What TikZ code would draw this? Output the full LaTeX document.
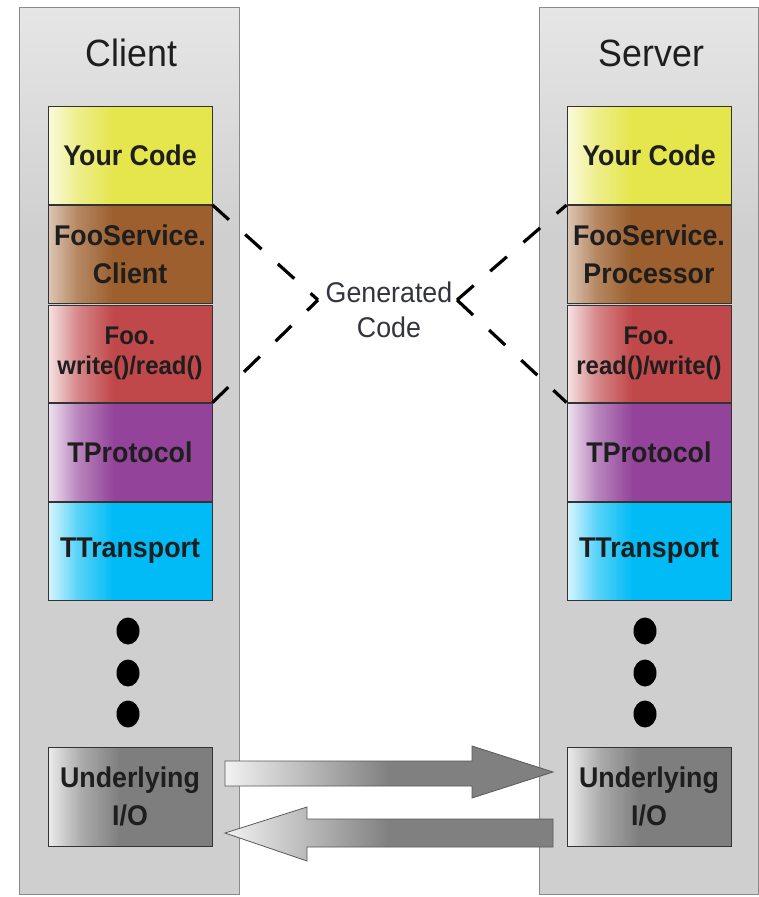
\documentclass[tikz,border=0pt]{standalone}
\usepackage{fontspec}
\setmainfont{Liberation Sans}[FakeStretch=0.94]
\usetikzlibrary{shapes.geometric}
\definecolor{cyel}{HTML}{E5E54C}
\definecolor{cbrn}{HTML}{9C5F2D}
\definecolor{cred}{HTML}{C0474A}
\definecolor{cpur}{HTML}{93449A}
\definecolor{ccya}{HTML}{00BBF5}
\definecolor{cgry}{HTML}{7E7E7E}
\definecolor{cpan}{HTML}{CFCFCF}
\definecolor{cpantop}{HTML}{E6E6E6}
\definecolor{cpanedge}{HTML}{8A8A8A}
\definecolor{ctxt}{HTML}{1E1E1E}
\definecolor{cgen}{HTML}{33343F}
\definecolor{carrowlight}{HTML}{F2F2F2}
\definecolor{carrowdark}{HTML}{808080}
\pgfdeclarehorizontalshading{shYel}{100bp}{color(0bp)=(cyel!18!white); color(25bp)=(cyel!18!white); color(34bp)=(cyel!65!white); color(45bp)=(cyel); color(100bp)=(cyel)}
\pgfdeclarehorizontalshading{shBrn}{100bp}{color(0bp)=(cbrn!35!white); color(25bp)=(cbrn!35!white); color(34bp)=(cbrn!75!white); color(45bp)=(cbrn); color(100bp)=(cbrn)}
\pgfdeclarehorizontalshading{shRed}{100bp}{color(0bp)=(cred!15!white); color(25bp)=(cred!15!white); color(34bp)=(cred!65!white); color(45bp)=(cred); color(100bp)=(cred)}
\pgfdeclarehorizontalshading{shPur}{100bp}{color(0bp)=(cpur!15!white); color(25bp)=(cpur!15!white); color(34bp)=(cpur!65!white); color(45bp)=(cpur); color(100bp)=(cpur)}
\pgfdeclarehorizontalshading{shCya}{100bp}{color(0bp)=(ccya!15!white); color(25bp)=(ccya!15!white); color(34bp)=(ccya!65!white); color(45bp)=(ccya); color(100bp)=(ccya)}
\pgfdeclarehorizontalshading{shGry}{100bp}{color(0bp)=(cgry!15!white); color(25bp)=(cgry!15!white); color(35bp)=(cgry!65!white); color(47bp)=(cgry); color(100bp)=(cgry)}
\pgfdeclarehorizontalshading{shArrow}{100bp}{color(0bp)=(carrowlight); color(25bp)=(carrowlight); color(50bp)=(carrowdark); color(100bp)=(carrowdark)}
\pgfdeclareverticalshading{shPanel}{100bp}{color(0bp)=(cpan); color(62bp)=(cpan); color(75bp)=(cpantop); color(100bp)=(cpantop)}
\begin{document}
\begin{tikzpicture}[x=1pt,y=-1pt,
  panel/.style={draw=cpanedge, line width=1pt, shade, shading=shPanel},
  title/.style={text=ctxt, font=\fontsize{38}{44}\selectfont},
  layer/.style={draw=black!80, line width=1pt, minimum width=164pt, minimum height=98pt,
    inner sep=0pt, align=center, text=ctxt, font=\fontsize{28.5}{38}\selectfont\bfseries, shade},
  small/.style={font=\fontsize{25.5}{30}\selectfont\bfseries},
  dot/.style={ellipse, fill=black, minimum width=23pt, minimum height=27pt, inner sep=0pt},
  genline/.style={line width=3.2pt, dash pattern=on 22pt off 22pt, black},
  gentext/.style={text=cgen, align=center, font=\fontsize{28.5}{35}\selectfont},
  blockarrow/.style={draw=black!65, line width=0.8pt, shade, shading=shArrow}]
\useasboundingbox (0,0) rectangle (759,897);
\fill[white] (0,0) rectangle (759,897);
% panels
\path[panel] (19,7) rectangle (239,894);
\path[panel] (539,7) rectangle (758,894);
\node[title] (clientT) at (131.5,53) {Client};
\node[title] (serverT) at (651.5,53) {Server};
% client layers
\node[layer, shading=shYel] (ycL) at (130,155.5) {Your Code};
\node[layer, shading=shBrn] (fsL) at (130,254.5) {FooService.\\Client};
\node[layer, shading=shRed, minimum height=97pt, small] (fooL) at (130,353.5) {Foo.\\write()/read()};
\node[layer, shading=shPur] (tpL) at (130,452) {TProtocol};
\node[layer, shading=shCya] (ttL) at (130,551) {TTransport};
\node[dot] (d1L) at (128,631) {};
\node[dot] (d2L) at (128,673) {};
\node[dot] (d3L) at (128,714) {};
\node[layer, shading=shGry, minimum height=99pt] (ioL) at (130,796.5) {Underlying\\I/O};
% server layers
\node[layer, shading=shYel] (ycR) at (649,155.5) {Your Code};
\node[layer, shading=shBrn] (fsR) at (649,254.5) {FooService.\\Processor};
\node[layer, shading=shRed, minimum height=97pt, small] (fooR) at (649,353.5) {Foo.\\read()/write()};
\node[layer, shading=shPur] (tpR) at (649,452) {TProtocol};
\node[layer, shading=shCya] (ttR) at (649,551) {TTransport};
\node[dot] (d1R) at (645,631) {};
\node[dot] (d2R) at (645,673) {};
\node[dot] (d3R) at (645,714) {};
\node[layer, shading=shGry, minimum height=99pt] (ioR) at (649,796.5) {Underlying\\I/O};
% generated code
\node[gentext] (gen) at (389,310) {Generated\\Code};
\coordinate (gL) at (318,300);
\coordinate (gR) at (457,300);
\draw[genline] (ycL.south east) -- (gL);
\draw[genline] (fooL.south east) -- (gL);
\draw[genline] (gR) -- (ycR.south west);
\draw[genline] (gR) -- (fooR.south west);
% block arrows between the I/O layers
\path[blockarrow] (225,761) -- (472,761) -- (472,746) -- (553,772) -- (472,798) -- (472,786) -- (225,786) -- cycle;
\path[blockarrow] (225,833) -- (307,807) -- (307,819) -- (553,819) -- (553,847) -- (307,847) -- (307,861) -- cycle;
\end{tikzpicture}
\end{document}
